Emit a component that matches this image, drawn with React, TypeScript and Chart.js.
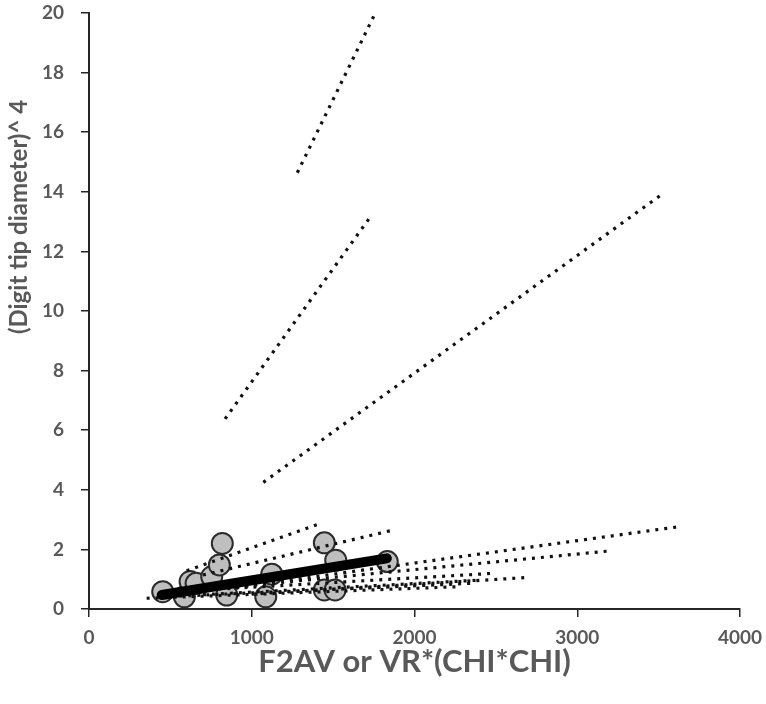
import React, { useEffect, useRef } from 'react';
import { Chart, registerables } from 'chart.js';

Chart.register(...registerables);

// Observed data points (gray circles)
const pointX = [453, 586, 621, 658, 754, 801, 819, 846, 1086, 1123, 1446, 1516, 1446, 1512, 1833];
const pointY = [0.58, 0.41, 0.92, 0.86, 1.08, 1.48, 2.2, 0.47, 0.41, 1.17, 2.22, 1.64, 0.64, 0.64, 1.59];

// Overall fit (thick black line)
const fitX = [447, 1830];
const fitY = [0.47, 1.7];

// Dotted trend lines: start and end points
const trendStartX = [1280, 836, 1071, 600, 700, 850, 850, 1000, 900, 700, 500, 354];
const trendStartY = [14.64, 6.38, 4.25, 1.28, 1.14, 0.68, 0.72, 0.5, 0.7, 0.48, 0.42, 0.36];
const trendEndX = [1762, 1737, 3529, 1434, 1870, 3622, 3202, 2674, 2495, 2403, 2342, 2280];
const trendEndY = [20.03, 13.22, 13.95, 2.89, 2.65, 2.76, 1.95, 1.05, 1.2, 0.97, 0.86, 0.75];

const xTicks = [0, 1000, 2000, 3000, 4000];
const yTicks = [0, 2, 4, 6, 8, 10, 12, 14, 16, 18, 20];

const xTitle = 'F2AV or VR*(CHI*CHI)';
const yTitle = '(Digit tip diameter)^ 4';

const TEXT = '#595959';
const AXIS = '#262626';

const titlePlugin = {
  id: 'axisTitles',
  afterDraw(chart: any) {
    const ctx = chart.ctx;
    const { left, right } = chart.chartArea;
    ctx.save();
    ctx.fillStyle = TEXT;
    ctx.textAlign = 'center';
    ctx.textBaseline = 'middle';
    ctx.font = 'bold 31px Lato';
    ctx.fillText(xTitle, (left + right) / 2, 662);
    ctx.translate(19, 217);
    ctx.rotate(-Math.PI / 2);
    ctx.font = 'bold 24px Lato';
    ctx.fillText(yTitle, 0, 0);
    ctx.restore();
  },
};

export default function App() {
  const ref = useRef<HTMLCanvasElement | null>(null);

  useEffect(() => {
    if (!ref.current) return;

    const trendSets = trendStartX.map((x0, i) => ({
      type: 'scatter' as const,
      data: [
        { x: x0, y: trendStartY[i] },
        { x: trendEndX[i], y: trendEndY[i] },
      ],
      showLine: true,
      borderColor: '#111',
      borderWidth: 3.2,
      borderDash: [3, 6],
      borderCapStyle: 'butt',
      pointRadius: 0,
      order: 2,
    }));

    const chart = new Chart(ref.current, {
      type: 'scatter',
      data: {
        datasets: [
          {
            data: fitX.map((x, i) => ({ x, y: fitY[i] })),
            showLine: true,
            borderColor: '#000',
            borderWidth: 10,
            borderCapStyle: 'round',
            pointRadius: 0,
            order: 1,
          } as any,
          ...trendSets,
          {
            data: pointX.map((x, i) => ({ x, y: pointY[i] })),
            showLine: false,
            pointRadius: 10.5,
            pointBackgroundColor: '#bfbfbf',
            pointBorderColor: '#2b2b2b',
            pointBorderWidth: 2,
            order: 10,
          },
        ],
      },
      options: {
        animation: false,
        responsive: false,
        maintainAspectRatio: false,
        layout: { padding: { top: 13, right: 26, bottom: 0, left: 0 } },
        plugins: {
          legend: { display: false },
          tooltip: { enabled: false },
          title: { display: false },
        },
        scales: {
          x: {
            type: 'linear',
            min: 0,
            max: 4000,
            afterBuildTicks: (scale: any) => {
              scale.ticks = xTicks.map((v) => ({ value: v }));
            },
            afterFit: (scale: any) => {
              scale.height = 95;
              scale.paddingLeft = 0;
              scale.paddingRight = 0;
            },
            ticks: {
              color: TEXT,
              font: { family: 'Lato', size: 19, weight: 'bold' },
              padding: 9,
              maxRotation: 0,
              callback: (v: any) => String(v),
            },
            grid: {
              display: true,
              drawOnChartArea: false,
              drawTicks: true,
              tickLength: 8,
              color: AXIS,
              lineWidth: 1.5,
            },
            border: { display: true, color: AXIS, width: 2 },
          },
          y: {
            type: 'linear',
            min: 0,
            max: 20,
            afterBuildTicks: (scale: any) => {
              scale.ticks = yTicks.map((v) => ({ value: v }));
            },
            afterFit: (scale: any) => {
              scale.width = 89;
              scale.paddingTop = 0;
              scale.paddingBottom = 0;
            },
            ticks: {
              color: TEXT,
              font: { family: 'Lato', size: 19, weight: 'bold' },
              padding: 17,
              callback: (v: any) => String(v),
            },
            grid: {
              display: true,
              drawOnChartArea: false,
              drawTicks: true,
              tickLength: 8,
              color: AXIS,
              lineWidth: 1.5,
            },
            border: { display: true, color: AXIS, width: 2 },
          },
        },
      } as any,
      plugins: [titlePlugin],
    });

    return () => chart.destroy();
  }, []);

  return (
    <div style={{ position: 'absolute', left: 0, top: 0, width: 766, height: 704, background: '#fff' }}>
      <canvas ref={ref} width={766} height={704} style={{ display: 'block', width: 766, height: 704 }} />
    </div>
  );
}
